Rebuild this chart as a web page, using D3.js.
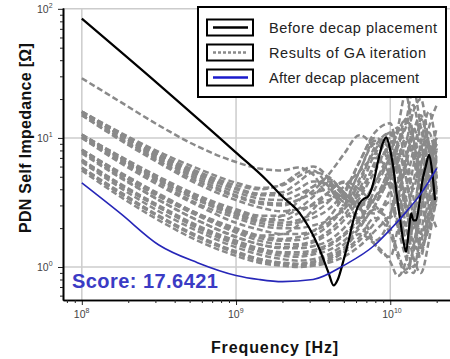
<!DOCTYPE html>
<html>
<head>
<meta charset="utf-8">
<script src="https://cdn.jsdelivr.net/npm/d3@7"></script>
<style>
  body { margin: 0; background: #fff; }
  svg { display: block; font-family: "Liberation Sans", Arial, sans-serif; }
</style>
</head>
<body>
<div id="chart"></div>
<script>
// frequency grid used by all GA curves [Hz]
var gaFreq = [1e8, 1.78e8, 3.16e8, 5.62e8, 1e9, 1.41e9, 2e9, 2.51e9, 3.16e9, 3.98e9,
  5.01e9, 6.31e9, 7.94e9, 1e10, 1.12e10, 1.26e10, 1.41e10, 1.58e10, 1.78e10, 2e10];

// results of GA iteration [Ohm], one row per curve
var gaCurves = [
  [29, 19, 12.5, 8.6, 6.5, 5.8, 5.6, 5.9, 5.2, 3.6, 3.4, 5.5, 9.5, 7.0, 4.0, 6.5, 12, 8, 5, 3.5],
  [16, 11, 7.8, 5.8, 4.5, 4.1, 4.3, 5.0, 5.6, 4.2, 3.0, 4.5, 8.5, 11, 6, 3.5, 6, 14, 9, 5],
  [16, 10.5, 7.2, 5.2, 4.0, 3.6, 3.6, 4.0, 4.6, 4.4, 3.2, 3.6, 6.5, 10.5, 12, 6, 4, 8, 11, 6],
  [16, 10.8, 7.5, 5.5, 4.3, 4.0, 4.4, 5.3, 6.0, 4.8, 2.6, 2.4, 4.0, 7.5, 12, 22, 10, 5, 3.5, 3],
  [16, 10.6, 7.3, 5.3, 4.1, 3.7, 3.8, 4.5, 5.4, 5.0, 3.8, 3.0, 3.5, 6, 9, 12, 18, 9, 5, 4],
  [15.8, 10.4, 7.0, 5.0, 3.8, 3.4, 3.3, 3.6, 4.2, 4.6, 3.8, 2.8, 2.6, 4.0, 6.5, 10, 7, 4, 6, 9],
  [15.5, 10, 6.8, 4.8, 3.6, 3.2, 3.1, 3.3, 3.7, 4.0, 3.4, 3.0, 4.5, 8, 11, 14, 8, 5, 9, 7],
  [15, 9.6, 6.4, 4.4, 3.3, 2.9, 2.7, 2.8, 3.0, 3.3, 3.6, 3.1, 3.2, 5.5, 8.5, 13, 24, 12, 6, 4],
  [15, 9.8, 6.6, 4.6, 3.5, 3.1, 3.0, 3.3, 3.9, 5.2, 7.5, 10.5, 8, 4, 2.2, 1.5, 2.5, 6, 9, 5],
  [10.6, 7.2, 5.0, 3.6, 2.8, 2.5, 2.5, 2.8, 3.5, 4.5, 3.5, 2.4, 3.0, 5.5, 4.0, 2.5, 4.5, 9, 16, 8],
  [10.6, 7.0, 4.8, 3.4, 2.6, 2.3, 2.2, 2.3, 2.6, 3.2, 4.2, 5.5, 7.0, 5.0, 3.0, 1.8, 2.5, 6, 12, 18],
  [10.6, 7.1, 4.9, 3.5, 2.7, 2.4, 2.3, 2.6, 3.1, 3.8, 4.6, 4.0, 3.0, 2.4, 3.5, 6, 11, 15, 8, 5],
  [10.3, 6.9, 4.7, 3.3, 2.5, 2.2, 2.1, 2.2, 2.4, 2.8, 3.8, 6.5, 10, 8, 5, 2.8, 1.6, 1.3, 2.5, 5.5],
  [10.2, 6.8, 4.7, 3.3, 2.6, 2.3, 2.5, 3.2, 4.2, 4.8, 3.6, 2.2, 1.6, 2.5, 4.5, 7, 10, 6, 3, 2],
  [10, 6.6, 4.5, 3.1, 2.4, 2.1, 2.0, 2.0, 2.1, 2.3, 2.8, 4.0, 7.5, 10, 6, 3, 2.0, 3.5, 7, 10],
  [10, 6.4, 4.3, 3.0, 2.2, 1.95, 1.8, 1.8, 1.9, 2.2, 3.0, 5.5, 9, 6, 3.5, 2.0, 1.4, 2.5, 6, 12],
  [8.1, 5.4, 3.7, 2.6, 2.0, 1.75, 1.65, 1.7, 1.9, 2.4, 3.6, 6.5, 11, 13, 7, 3, 1.5, 1.2, 3, 7],
  [8.1, 5.3, 3.6, 2.55, 1.9, 1.68, 1.6, 1.62, 1.75, 2.1, 2.9, 4.8, 8, 11, 9, 5, 2.5, 1.5, 2, 4.5],
  [8.1, 5.2, 3.5, 2.5, 1.85, 1.6, 1.5, 1.5, 1.6, 1.9, 2.5, 3.8, 6, 9, 12, 8, 3.5, 1.8, 2.5, 5],
  [8, 5.3, 3.6, 2.6, 1.95, 1.75, 1.8, 2.1, 2.8, 3.8, 4.5, 3.0, 1.5, 1.2, 2, 4, 8, 12, 6, 4],
  [7.8, 5.0, 3.3, 2.3, 1.7, 1.5, 1.4, 1.4, 1.45, 1.6, 2.0, 2.8, 4.5, 7, 9, 14, 10, 4, 2, 3.5],
  [7.6, 4.9, 3.3, 2.3, 1.72, 1.5, 1.42, 1.45, 1.55, 1.8, 2.3, 3.4, 5.5, 8.5, 6, 3.5, 2.0, 2.8, 6, 10],
  [6.8, 4.4, 3.0, 2.1, 1.6, 1.4, 1.3, 1.3, 1.35, 1.5, 1.8, 2.4, 3.4, 5, 6.5, 9, 16, 20, 9, 4],
  [6.7, 4.3, 2.9, 2.05, 1.55, 1.36, 1.27, 1.25, 1.3, 1.45, 1.75, 2.3, 3.4, 5.2, 7.5, 5, 2.5, 1.4, 2.2, 5],
  [6.7, 4.3, 2.9, 2.0, 1.5, 1.32, 1.22, 1.2, 1.25, 1.35, 1.6, 2.1, 3.0, 4.5, 3.0, 1.6, 1.0, 1.8, 4.5, 7],
  [6.5, 4.1, 2.7, 1.9, 1.42, 1.25, 1.15, 1.12, 1.15, 1.25, 1.5, 2.0, 2.8, 2.0, 1.3, 0.95, 1.4, 3.5, 6, 9],
  [5.9, 3.8, 2.5, 1.75, 1.32, 1.16, 1.08, 1.06, 1.1, 1.2, 1.4, 1.8, 1.5, 1.1, 0.85, 1.1, 2.2, 4.5, 7, 5],
  [5.85, 3.7, 2.45, 1.72, 1.3, 1.14, 1.07, 1.05, 1.08, 1.16, 1.35, 1.7, 2.4, 1.8, 1.2, 0.9, 1.3, 2.8, 5, 8],
  [5.85, 3.7, 2.45, 1.7, 1.28, 1.12, 1.05, 1.03, 1.05, 1.12, 1.3, 1.6, 2.2, 3.2, 2.0, 1.2, 0.9, 1.5, 3.5, 6],
  [5.6, 3.5, 2.3, 1.6, 1.22, 1.08, 1.02, 1.0, 1.02, 1.08, 1.2, 1.45, 1.9, 2.6, 3.5, 2.2, 1.2, 0.9, 1.6, 4]
];

// before decap placement
var beforeFreq = [1e8, 3.16e8, 1e9, 1.58e9, 2e9, 2.55e9, 3.43e9, 3.98e9, 4.29e9, 4.57e9, 4.98e9,
  5.37e9, 5.77e9, 6.31e9, 6.79e9, 7.16e9, 7.53e9, 7.94e9, 8.37e9, 8.91e9, 9.42e9, 9.89e9,
  1.045e10, 1.096e10, 1.143e10, 1.213e10, 1.268e10, 1.318e10, 1.365e10, 1.413e10, 1.472e10,
  1.549e10, 1.607e10, 1.698e10, 1.786e10, 1.866e10, 1.95e10];
var beforeZ = [84, 25.9, 7.7, 4.7, 3.5, 2.67, 1.43, 0.9, 0.72, 0.8, 1.13,
  1.6, 2.31, 3.1, 3.4, 3.5, 3.95, 5.0, 6.76, 9.0, 10.1, 8.5,
  5.96, 3.8, 2.62, 1.62, 1.31, 1.9, 2.6, 2.3, 2.3,
  3.2, 4.48, 6.0, 7.4, 5.6, 3.3];

// after decap placement
var afterFreq = [1e8, 1.78e8, 3.16e8, 5.62e8, 1e9, 1.41e9, 2e9, 3.16e9, 5.01e9, 7.94e9, 1e10, 1.26e10, 1.58e10, 2e10];
var afterZ = [4.48, 2.6, 1.48, 1.08, 0.86, 0.8, 0.77, 0.8, 1.03, 1.48, 1.95, 2.65, 3.7, 5.8];

var xMajor = [1e8, 1e9, 1e10];
var yMajor = [1, 10, 100];
var legendLabels = ["Before decap placement", "Results of GA iteration", "After decap placement"];
var scoreText = "Score: 17.6421";

var width = 450, height = 359;
var plot = { left: 63, right: 450, top: 8, bottom: 300 };

var svg = d3.select("#chart").append("svg")
  .attr("width", width)
  .attr("height", height);

var x = d3.scaleLog().domain([7.55e7, 2.44e10]).range([plot.left, plot.right]);
var y = d3.scaleLog().domain([0.555, 101.5]).range([plot.bottom, plot.top]);

svg.append("clipPath").attr("id", "clip")
  .append("rect")
  .attr("x", plot.left).attr("y", plot.top)
  .attr("width", plot.right - plot.left).attr("height", plot.bottom - plot.top);

// grid lines
var grid = svg.append("g").attr("stroke", "#cccccc").attr("stroke-width", 1.5);
grid.selectAll(".vg").data(xMajor).enter().append("line")
  .attr("x1", d => x(d)).attr("x2", d => x(d))
  .attr("y1", plot.top).attr("y2", plot.bottom);
grid.selectAll(".hg").data(yMajor).enter().append("line")
  .attr("x1", plot.left).attr("x2", plot.right)
  .attr("y1", d => y(d)).attr("y2", d => y(d));

var line = d3.line()
  .x(d => x(d[0]))
  .y(d => y(d[1]))
  .curve(d3.curveMonotoneX);

var curves = svg.append("g").attr("clip-path", "url(#clip)");

curves.selectAll(".ga").data(gaCurves).enter().append("path")
  .attr("class", "ga")
  .attr("fill", "none")
  .attr("stroke", "#8a8a8a")
  .attr("stroke-width", 2.5)
  .attr("stroke-dasharray", "6,3")
  .attr("d", function (row) { return line(row.map((v, i) => [gaFreq[i], v])); });

curves.append("path")
  .attr("fill", "none")
  .attr("stroke", "#000")
  .attr("stroke-width", 2.2)
  .attr("d", line(beforeZ.map((v, i) => [beforeFreq[i], v])));

curves.append("path")
  .attr("fill", "none")
  .attr("stroke", "#2626b8")
  .attr("stroke-width", 1.6)
  .attr("d", line(afterZ.map((v, i) => [afterFreq[i], v])));

// minor tick values
var xMinor = [], yMinor = [];
[1e7, 1e8, 1e9, 1e10].forEach(function (d) {
  for (var k = 2; k < 10; k++) {
    var v = d * k;
    if (v > x.domain()[0] && v < x.domain()[1]) xMinor.push(v);
  }
});
[0.1, 1, 10].forEach(function (d) {
  for (var k = 2; k < 10; k++) {
    var v = d * k;
    if (v > y.domain()[0] && v < y.domain()[1]) yMinor.push(v);
  }
});

// axes
var gx = svg.append("g").attr("transform", "translate(0," + plot.bottom + ")");
gx.call(d3.axisBottom(x).tickValues(xMajor).tickSize(5).tickSizeOuter(0).tickFormat(""));
gx.append("g").call(d3.axisBottom(x).tickValues(xMinor).tickSize(3).tickSizeOuter(0).tickFormat(""));
var gy = svg.append("g").attr("transform", "translate(" + plot.left + ",0)");
gy.call(d3.axisLeft(y).tickValues(yMajor).tickSize(5).tickSizeOuter(0).tickFormat(""));
gy.append("g").call(d3.axisLeft(y).tickValues(yMinor).tickSize(3).tickSizeOuter(0).tickFormat(""));
svg.selectAll(".domain").attr("stroke", "#000").attr("stroke-width", 1.6);
svg.selectAll(".tick line").attr("stroke", "#222");

// tick labels like 10^8
function powLabel(sel, exp) {
  sel.append("tspan").text("10");
  sel.append("tspan").attr("dy", -5).attr("font-size", 7).text(exp);
}
xMajor.forEach(function (d) {
  var t = svg.append("text")
    .attr("x", x(d) - 8).attr("y", 318)
    .attr("font-size", 10.5).attr("fill", "#444");
  powLabel(t, Math.round(Math.log10(d)));
});
yMajor.forEach(function (d) {
  var t = svg.append("text")
    .attr("x", 37).attr("y", y(d) + 4)
    .attr("font-size", 10.5).attr("fill", "#444");
  powLabel(t, Math.round(Math.log10(d)));
});

// axis titles
svg.append("text")
  .attr("x", 275).attr("y", 353)
  .attr("text-anchor", "middle")
  .attr("font-size", 16).attr("font-weight", "bold")
  .attr("letter-spacing", 0.9)
  .attr("fill", "#111")
  .text("Frequency [Hz]");
svg.append("text")
  .attr("transform", "translate(31,138) rotate(-90)")
  .attr("text-anchor", "middle")
  .attr("font-size", 16).attr("font-weight", "bold")
  .attr("letter-spacing", 0.3)
  .attr("fill", "#111")
  .text("PDN Self Impedance [\u03a9]");

// score
svg.append("text")
  .attr("x", 72).attr("y", 288)
  .attr("font-size", 20).attr("font-weight", "bold")
  .attr("letter-spacing", 0.45)
  .attr("fill", "#3b3bc4")
  .text(scoreText);

// legend
var lg = svg.append("g");
lg.append("rect")
  .attr("x", 198).attr("y", 7).attr("width", 248).attr("height", 90)
  .attr("fill", "#fff").attr("stroke", "#000").attr("stroke-width", 2);
var legendStyle = [
  { stroke: "#000", width: 2.5, dash: null, len: 168 },
  { stroke: "#8a8a8a", width: 2.5, dash: "3,2", len: 157 },
  { stroke: "#1a1acc", width: 2.5, dash: null, len: 150 }
];
legendLabels.forEach(function (lab, i) {
  var cy = 27.5 + i * 25;
  lg.append("rect")
    .attr("x", 207).attr("y", cy - 8).attr("width", 46).attr("height", 16)
    .attr("fill", "#fff").attr("stroke", "#000").attr("stroke-width", 2);
  lg.append("line")
    .attr("x1", 213).attr("x2", 248).attr("y1", cy).attr("y2", cy)
    .attr("stroke", legendStyle[i].stroke)
    .attr("stroke-width", legendStyle[i].width)
    .attr("stroke-dasharray", legendStyle[i].dash);
  lg.append("text")
    .attr("x", 269).attr("y", cy + 5)
    .attr("font-size", 14.5).attr("fill", "#222")
    .attr("textLength", legendStyle[i].len)
    .attr("lengthAdjust", "spacing")
    .text(lab);
});
</script>
</body>
</html>
